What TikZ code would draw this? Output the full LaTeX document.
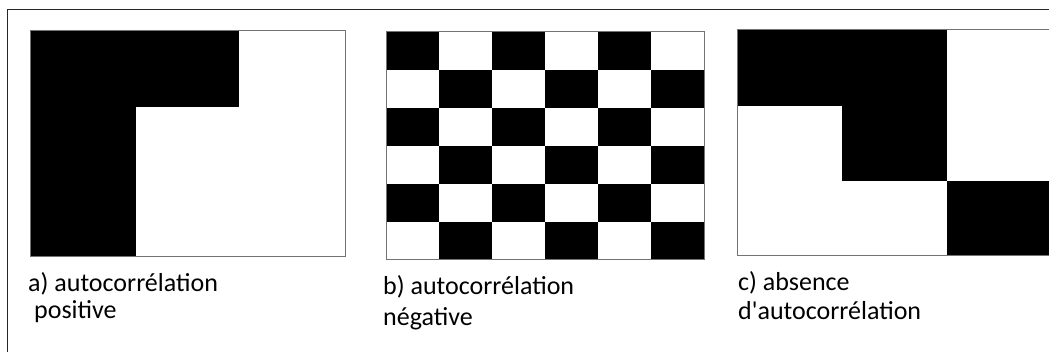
\documentclass[tikz,border=0pt]{standalone}
\usepackage{fontspec}
\newfontfamily\capfont{Carlito}
\begin{document}
\begin{tikzpicture}[x=1pt,y=-1pt,
  blk/.style={fill=black,draw=none},
  panelframe/.style={draw=black!55,line width=1pt},
  caption/.style={anchor=base west,inner sep=0pt,font=\capfont\fontsize{26}{31}\selectfont}]
\useasboundingbox (0,0) rectangle (1049,352);
\begin{scope}
\clip (0,0) rectangle (1049,352);
% outer frame
\draw[black!85,line width=1.2pt] (7.5,352) -- (7.5,9.5) -- (1049,9.5);
% panel a
\fill[blk] (30,31) rectangle (239,107);
\fill[blk] (30,107) rectangle (136,257);
\draw[panelframe] (30,31) rectangle (345,257);
% panel b : checkerboard
\foreach \r in {0,...,5}{
  \foreach \c in {0,...,5}{
    \pgfmathtruncatemacro{\cellparity}{mod(\r+\c,2)}
    \ifnum\cellparity=0
      \fill[blk] ({386+53*\c},{31.5+38.1*\r}) rectangle ({386+53*(\c+1)},{31.5+38.1*(\r+1)});
    \fi
  }
}
\draw[panelframe] (386,31.5) rectangle (704,260);
% panel c
\fill[blk] (737,30) rectangle (947,106);
\fill[blk] (842,106) rectangle (947,181);
\fill[blk] (947,181) rectangle (1052,256);
\draw[panelframe] (737,30) rectangle (1052,256);
\end{scope}
% captions
\node[caption] (a1) at (28,292) {a) autocorrélation};
\node[caption] (a2) at (34,319) {positive};
\node[caption] (b1) at (383,295) {b) autocorrélation};
\node[caption] (b2) at (383,326) {négative};
\node[caption] (c1) at (738,291) {c) absence};
\node[caption] (c2) at (738,320) {d'autocorrélation};
\end{tikzpicture}
\end{document}
